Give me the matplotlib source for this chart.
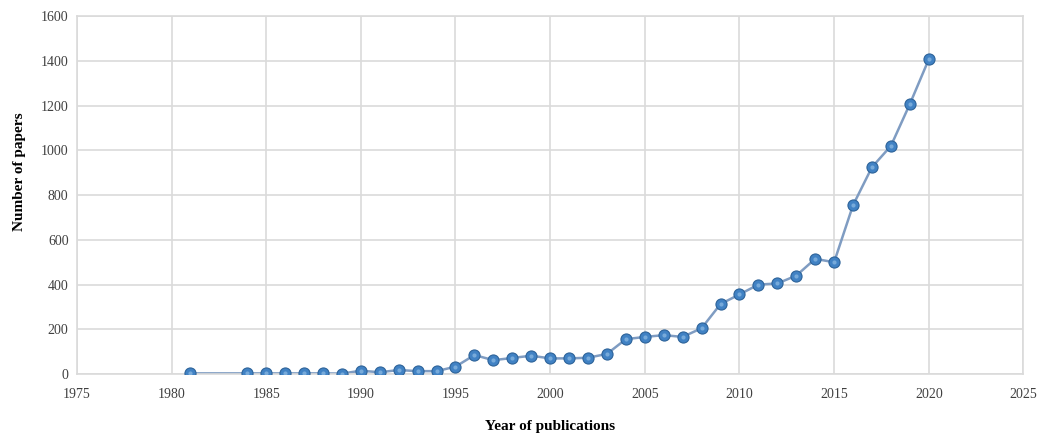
import matplotlib

matplotlib.use("Agg")
import matplotlib.pyplot as plt

# ── data ──────────────────────────────────────────────────────────────────
years = [1981, 1984, 1985, 1986, 1987, 1988, 1989, 1990, 1991, 1992, 1993,
         1994, 1995, 1996, 1997, 1998, 1999, 2000, 2001, 2002, 2003, 2004,
         2005, 2006, 2007, 2008, 2009, 2010, 2011, 2012, 2013, 2014, 2015,
         2016, 2017, 2018, 2019, 2020]
papers = [3, 3, 3, 3, 3, 3, 2, 15, 8, 18, 13,
          13, 33, 85, 62, 72, 82, 70, 70, 73, 90, 156,
          166, 174, 166, 205, 313, 356, 400, 405, 440, 515, 500,
          755, 925, 1020, 1207, 1407]
x_ticks = list(range(1975, 2026, 5))
y_ticks = list(range(0, 1601, 200))

plt.rcParams["font.family"] = ["Liberation Serif", "DejaVu Serif"]

fig = plt.figure(figsize=(10.39, 4.38), dpi=100)
ax = fig.add_axes([0.074, 0.146, 0.911, 0.817])

grid_c = "#dadada"
ax.plot(years, papers, color="#7f9cc2", linewidth=1.8, zorder=2)
ax.plot(years, papers, linestyle="none", marker="o", markersize=8,
        markerfacecolor="#4182c4", markeredgecolor="#2d6399",
        markeredgewidth=0.8, zorder=3)
# small highlight to mimic the glossy markers
ax.plot(years, papers, linestyle="none", marker="o", markersize=3,
        markerfacecolor="#9cc6ea", markeredgewidth=0, alpha=0.6, zorder=4)

ax.set_xlim(1975, 2025)
ax.set_ylim(0, 1600)
ax.set_xticks(x_ticks)
ax.set_yticks(y_ticks)
ax.grid(True, color=grid_c, linewidth=1.2)
ax.set_axisbelow(True)
for s in ax.spines.values():
    s.set_color(grid_c)
    s.set_linewidth(1.2)
ax.tick_params(length=0, labelsize=10, colors="#404040")
ax.tick_params(axis="x", pad=10)
ax.tick_params(axis="y", pad=6)

ax.set_xlabel("Year of publications", fontsize=11, fontweight="bold",
              labelpad=14)
ax.set_ylabel("Number of papers", fontsize=11, fontweight="bold")
ax.yaxis.set_label_coords(-0.054, 0.565)

fig.savefig("out.png", dpi=100)
